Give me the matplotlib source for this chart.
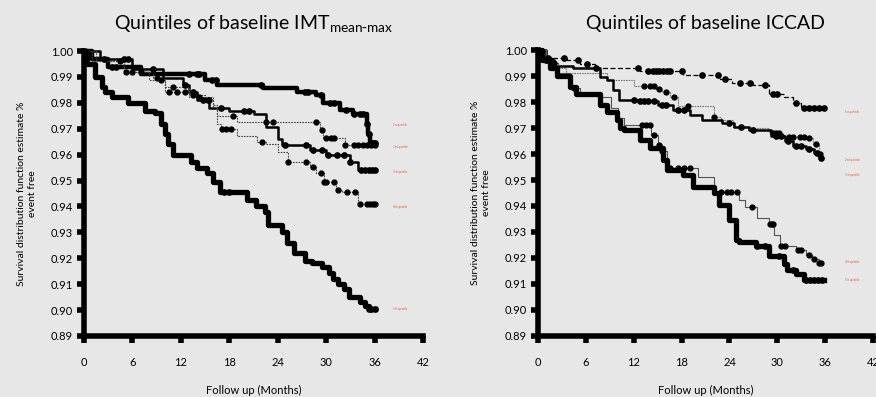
import matplotlib
matplotlib.use("Agg")
import matplotlib.pyplot as plt
import numpy as np

plt.rcParams["font.family"] = ["Lato", "DejaVu Sans"]

BG = "#e7e7e7"

# ---- left panel: quintiles of IMT mean-max ----
L1_t = [0, 1.0, 3.0, 7.0, 15.0, 16.5, 22.2, 26.4, 28.8, 29.6, 31.7, 33.3, 35.0, 35.2, 35.4, 36.0]
L1_s = [1.0, 0.997, 0.994, 0.991, 0.989, 0.987, 0.9858, 0.984, 0.983, 0.980, 0.9772, 0.9757, 0.972, 0.968, 0.9645, 0.9645]
L1_c = [3.5, 4.0, 13.0, 14.0, 14.3, 15.8, 16.3, 21.9, 27.4, 27.8, 29.4, 30.5, 31.0, 32.5, 33.5, 34.2, 34.6, 35.0, 35.3, 35.6, 35.8, 36.0]

L2_t = [0, 2.0, 6.0, 9.8, 12.3, 13.0, 14.0, 15.5, 18.0, 21.0, 22.5, 24.0, 24.5, 28.0, 30.0, 33.0, 34.0, 36.0]
L2_s = [1.0, 0.997, 0.993, 0.9895, 0.987, 0.984, 0.981, 0.978, 0.977, 0.9757, 0.9707, 0.966, 0.9637, 0.9618, 0.960, 0.9573, 0.954, 0.954]
L2_c = [2.5, 5.0, 5.5, 8.5, 12.5, 13.5, 14.8, 15.3, 17.0, 19.8, 20.5, 24.9, 27.5, 28.4, 29.5, 30.2, 31.3, 32.2, 33.0, 34.3, 34.8, 35.3, 35.7, 36.0]

L3_t = [0, 1.5, 5.0, 8.5, 10.0, 13.0, 16.0, 16.5, 19.0, 29.2, 29.6, 32.3, 36.0]
L3_s = [1.0, 0.996, 0.992, 0.9896, 0.984, 0.9824, 0.9784, 0.975, 0.9726, 0.9695, 0.9665, 0.9637, 0.9637]
L3_c = [4.5, 5.2, 9.0, 10.5, 11.5, 12.5, 14.3, 18.5, 22.6, 23.4, 28.8, 29.5, 30.0, 30.6, 31.0, 32.3, 33.5, 34.0, 34.6, 35.0, 35.5, 36.0]

L4_t = [0, 1.0, 5.0, 8.0, 10.0, 13.0, 15.0, 16.0, 16.5, 17.0, 19.0, 21.4, 22.5, 24.0, 25.3, 28.0, 28.7, 29.7, 31.2, 32.0, 34.0, 36.0]
L4_s = [1.0, 0.996, 0.992, 0.989, 0.986, 0.983, 0.981, 0.979, 0.972, 0.970, 0.9673, 0.965, 0.964, 0.9611, 0.957, 0.9554, 0.953, 0.9496, 0.9463, 0.9456, 0.941, 0.941]
L4_c = [6.0, 7.0, 9.5, 11.0, 13.5, 15.5, 17.1, 17.6, 18.2, 22.0, 25.3, 27.5, 28.4, 29.3, 29.7, 30.0, 31.0, 31.5, 32.6, 33.6, 34.2, 35.0, 35.4, 35.8, 36.0]

L5_t = [0, 0.4, 1.4, 2.2, 2.6, 3.5, 5.5, 7.6, 8.8, 9.5, 10.0, 10.4, 11.0, 13.3, 14.0, 15.2, 16.0, 16.9, 20.2, 21.3, 22.4, 22.8,
        24.5, 25.2, 26.0, 27.4, 28.3, 29.5, 30.3, 30.8, 31.5, 32.2, 32.8, 34.2, 34.8, 35.3, 36.0]
L5_s = [1.0, 0.995, 0.990, 0.986, 0.984, 0.9823, 0.980, 0.977, 0.976, 0.972, 0.968, 0.964, 0.960, 0.957, 0.955, 0.953, 0.9496, 0.9455,
        0.9425, 0.940, 0.938, 0.933, 0.930, 0.926, 0.922, 0.919, 0.918, 0.9167, 0.9145, 0.912, 0.910, 0.908, 0.905, 0.903, 0.9015, 0.9004, 0.9004]
L5_c = [17.3, 18.0, 35.3, 35.6, 36.0]

# ---- right panel: quintiles of ICCAD ----
R1_t = [0, 0.6, 3.6, 5.3, 7.2, 12.8, 18.2, 22.8, 24.3, 27.0, 28.9, 30.8, 32.0, 33.0, 36.0]
R1_s = [1.0, 0.997, 0.9962, 0.9946, 0.993, 0.9919, 0.9904, 0.9888, 0.9872, 0.9865, 0.9829, 0.982, 0.9796, 0.9776, 0.9776]
R1_c = [1.2, 3.2, 5.0, 6.2, 12.5, 13.8, 14.4, 14.8, 15.2, 15.7, 16.2, 16.6, 18.0, 20.5, 22.6, 23.4, 25.3, 26.6, 28.5,
        29.4, 30.0, 32.4, 33.3, 34.0, 34.6, 35.2, 35.8]

R2_t = [0, 0.5, 2.0, 3.5, 8.6, 12.0, 14.8, 15.5, 16.5, 17.5, 22.0, 22.9, 24.5, 27.0, 29.0, 30.5, 33.5, 34.5, 35.2, 35.6]
R2_s = [1.0, 0.996, 0.993, 0.991, 0.9885, 0.986, 0.985, 0.984, 0.982, 0.9786, 0.9743, 0.973, 0.9705, 0.970, 0.968, 0.9665, 0.966, 0.964, 0.960, 0.958]
R2_c = [13.3, 14.0, 14.6, 15.2, 16.0, 17.0, 18.8, 22.0, 29.4, 29.8, 30.2, 31.5, 32.0, 32.8, 33.4, 34.0, 34.8, 35.4]

R3_t = [0, 1.0, 2.0, 4.4, 7.8, 8.6, 9.4, 10.2, 12.7, 15.0, 16.9, 19.0, 20.6, 23.1, 24.6, 26.5, 29.2, 31.0, 32.0, 33.6, 34.6, 35.2, 35.6]
R3_s = [1.0, 0.996, 0.994, 0.993, 0.9897, 0.9885, 0.9846, 0.9808, 0.9805, 0.979, 0.977, 0.975, 0.973, 0.972, 0.9705, 0.9692, 0.967, 0.965, 0.963, 0.962, 0.9605, 0.9585, 0.9585]
R3_c = [1.5, 7.3, 12.0, 12.8, 13.3, 13.8, 14.5, 15.5, 16.1, 17.6, 18.3, 24.0, 25.5, 27.0, 29.8, 30.5, 31.3, 32.3, 33.0, 34.0, 35.0, 35.5]

R4_t = [0, 1.0, 2.5, 4.0, 5.3, 7.8, 9.1, 10.0, 10.8, 14.2, 15.0, 15.5, 16.2, 20.0, 22.0, 25.2, 26.0, 27.5, 29.0, 29.6, 30.3, 32.3, 33.6, 34.4, 35.2, 35.6]
R4_s = [1.0, 0.995, 0.991, 0.9855, 0.9827, 0.982, 0.9777, 0.974, 0.9713, 0.9673, 0.9635, 0.961, 0.9548, 0.951, 0.9455, 0.9423, 0.9397, 0.9354, 0.933, 0.929, 0.9246, 0.923, 0.921, 0.9195, 0.918, 0.918]
R4_c = [2.0, 4.5, 13.0, 13.5, 14.0, 14.6, 15.2, 15.6, 16.6, 17.6, 18.3, 19.0, 22.9, 23.7, 24.2, 25.0, 26.8, 29.1, 29.3, 29.5,
        30.5, 31.0, 32.6, 33.0, 34.0, 34.6, 35.2, 35.5]

R5_t = [0, 0.5, 1.5, 2.4, 4.0, 4.8, 7.8, 8.6, 9.9, 10.3, 10.8, 12.8, 14.0, 15.7, 16.2, 18.2, 19.4, 22.0, 22.7, 24.0, 24.8, 25.2,
        27.3, 29.0, 30.8, 31.2, 32.4, 33.3, 35.8]
R5_s = [1.0, 0.996, 0.993, 0.990, 0.9858, 0.983, 0.979, 0.976, 0.973, 0.970, 0.9692, 0.9654, 0.9623, 0.9577, 0.9538, 0.952, 0.9473,
        0.945, 0.9404, 0.9346, 0.927, 0.9263, 0.9246, 0.9208, 0.9177, 0.9154, 0.9138, 0.9115, 0.9115]
R5_c = [1.0, 27.4, 28.4, 30.2, 32.0, 33.6, 34.1, 34.6, 35.1, 35.6]

LEFT_LABEL_Y = [0.9714, 0.963, 0.9533, 0.9398, 0.9004]
RIGHT_LABEL_Y = [0.976, 0.9577, 0.952, 0.9186, 0.9115]
QUINTILE_NAMES = ["1st quintile", "2nd quintile", "3rd quintile", "4th quintile", "5th quintile"]

Y_TICKS = [0.89, 0.90, 0.91, 0.92, 0.93, 0.94, 0.95, 0.96, 0.97, 0.98, 0.99, 1.00]
X_TICKS = [0, 6, 12, 18, 24, 30, 36, 42]


def km(ax, t, s, cens, lw, color="black", ls="-", ms=3.8):
    t = np.asarray(t)
    s = np.asarray(s)
    ax.step(t, s, where="post", color=color, lw=lw, linestyle=ls, clip_on=False, zorder=3)
    idx = np.searchsorted(t, cens, side="right") - 1
    ax.plot(cens, s[idx], "o", color="black", ms=ms, clip_on=False, zorder=4)


def style_axes(ax):
    ax.set_facecolor(BG)
    ax.set_xlim(0, 42)
    ax.set_ylim(0.89, 1.0)
    ax.set_xticks(X_TICKS)
    ax.set_yticks(Y_TICKS)
    ax.set_yticklabels([f"{v:.2f}" for v in Y_TICKS])
    for side in ("top", "right"):
        ax.spines[side].set_visible(False)
    for side in ("left", "bottom"):
        ax.spines[side].set_linewidth(4)
    ax.tick_params(axis="both", width=4, length=5, labelsize=8, colors="black")
    ax.tick_params(axis="x", pad=10)
    ax.tick_params(axis="y", pad=3)
    ax.set_xlabel("Follow up (Months)", fontsize=8, labelpad=12)
    ax.set_ylabel("Survival distribution function estimate %\nevent free", fontsize=7.5, labelpad=10)


fig = plt.figure(figsize=(8.76, 3.97), dpi=100, facecolor=BG)
axl = fig.add_axes([0.0959, 0.1537, 0.3870, 0.7178])
axr = fig.add_axes([0.6142, 0.1537, 0.3824, 0.7203])

style_axes(axl)
km(axl, L1_t, L1_s, L1_c, lw=3.2)
km(axl, L2_t, L2_s, L2_c, lw=1.8)
km(axl, L3_t, L3_s, L3_c, lw=0.8, color="#444444", ls=(0, (1.5, 1)), ms=3.5)
km(axl, L4_t, L4_s, L4_c, lw=0.8, color="#444444", ls=(0, (1.5, 1)), ms=3.5)
km(axl, L5_t, L5_s, L5_c, lw=3.8)
for y, name in zip(LEFT_LABEL_Y, QUINTILE_NAMES):
    axl.text(38.3, y, name, fontsize=2, color="#d9603b", va="center")
axl.set_title("Quintiles of baseline IMT$_{\\mathregular{mean\\text{-}max}}$", fontsize=14, pad=15)

style_axes(axr)
km(axr, R1_t, R1_s, R1_c, lw=0.9, ls=(0, (4, 2)))
km(axr, R2_t, R2_s, R2_c, lw=0.8, color="#777777", ls=(0, (1.5, 0.8)), ms=3.5)
km(axr, R3_t, R3_s, R3_c, lw=1.8)
km(axr, R4_t, R4_s, R4_c, lw=0.8, color="#555555", ms=3.5)
km(axr, R5_t, R5_s, R5_c, lw=3.8)
for y, name in zip(RIGHT_LABEL_Y, QUINTILE_NAMES):
    axr.text(38.5, y, name, fontsize=2, color="#d9603b", va="center")
axr.set_title("Quintiles of baseline ICCAD", fontsize=14, pad=15)

fig.savefig("out.png", dpi=100, facecolor=BG)
